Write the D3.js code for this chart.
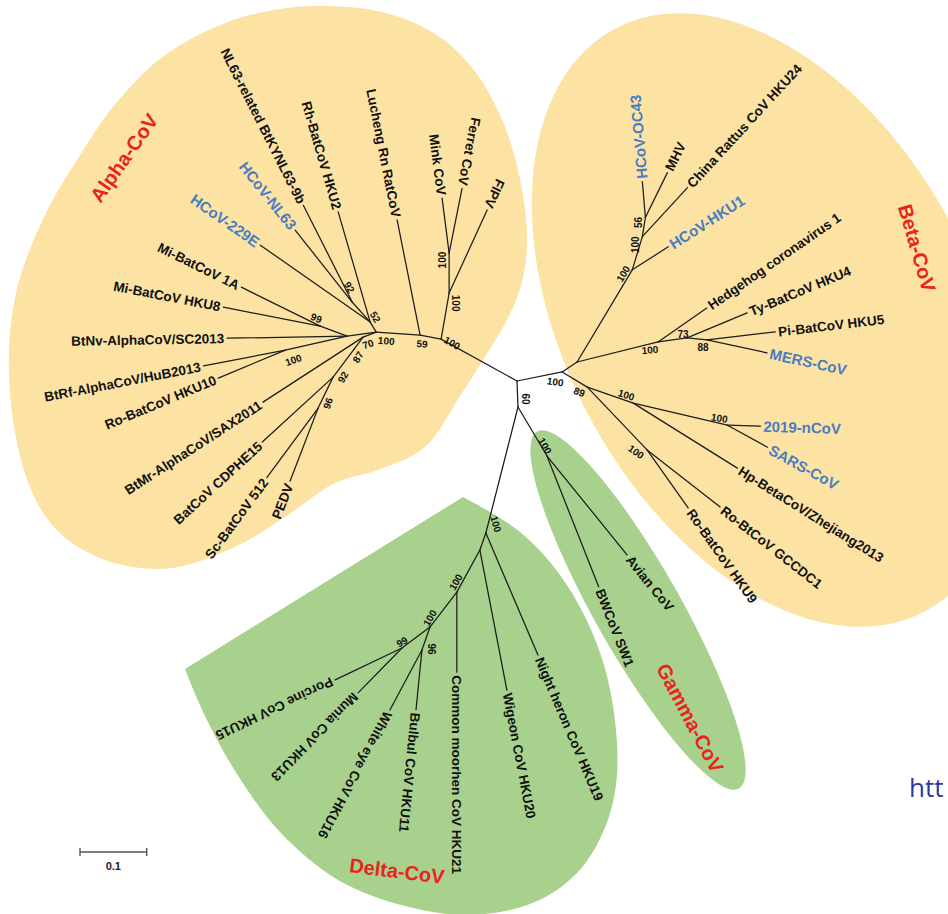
<!DOCTYPE html>
<html>
<head>
<meta charset="utf-8">
<script src="https://cdn.jsdelivr.net/npm/d3@7/dist/d3.min.js"></script>
<style>
  body { margin: 0; background: #fff; overflow: hidden; }
  svg { display: block; }
  text { font-family: "Liberation Sans", Arial, Helvetica, sans-serif; font-weight: bold; }
</style>
</head>
<body>
<svg id="chart" width="948" height="914"></svg>
<script>
// ---- Tree data: one entry per node (parent, branch length in substitutions/site) ----
const nodeIds = [
  "root",
  "a0", "f1", "f2", "FIPV", "Mink CoV", "Ferret CoV",
  "a1", "Lucheng Rn RatCoV", "a2", "a3", "a4",
  "NL63-related BtKYNL63-9b", "HCoV-NL63", "HCoV-229E", "Rh-BatCoV HKU2",
  "a5", "BtNv-AlphaCoV/SC2013", "a6", "Mi-BatCoV 1A", "Mi-BatCoV HKU8",
  "a7", "BtRf-AlphaCoV/HuB2013", "Ro-BatCoV HKU10",
  "a8", "BtMr-AlphaCoV/SAX2011", "a9", "a10", "BatCoV CDPHE15", "a11", "Sc-BatCoV 512", "PEDV",
  "b0", "b1", "b2", "Hedgehog coronavirus 1", "b3", "Ty-BatCoV HKU4", "b4", "Pi-BatCoV HKU5", "MERS-CoV",
  "b5", "HCoV-HKU1", "b6", "China Rattus CoV HKU24", "b7", "HCoV-OC43", "MHV",
  "b8", "b9", "b10", "2019-nCoV", "SARS-CoV", "Hp-BetaCoV/Zhejiang2013",
  "b11", "Ro-BtCoV GCCDC1", "Ro-BatCoV HKU9",
  "g0", "g1", "Avian CoV", "BWCoV SW1",
  "d1", "Night heron CoV HKU19", "d2", "Wigeon CoV HKU20", "d3", "Common moorhen CoV HKU21",
  "d4", "d5", "d6", "Porcine CoV HKU15", "Munia CoV HKU13", "White eye CoV HKU16", "Bulbul CoV HKU11"
];
const parentIds = [
  null,
  "root", "a0", "f1", "f1", "f2", "f2",
  "a0", "a1", "a1", "a2", "a3",
  "a4", "a4", "a3", "a3",
  "a2", "a5", "a5", "a6", "a6",
  "a5", "a7", "a7",
  "a2", "a8", "a8", "a9", "a10", "a10", "a11", "a11",
  "root", "b0", "b1", "b2", "b2", "b3", "b3", "b4", "b4",
  "b1", "b5", "b5", "b6", "b6", "b7", "b7",
  "b0", "b8", "b9", "b10", "b10", "b9",
  "b8", "b11", "b11",
  "root", "g0", "g1", "g1",
  "g0", "d1", "d1", "d2", "d2", "d3",
  "d3", "d4", "d4", "d5", "d5", "d6", "d6"
];
const branchLengths = [
  0,
  0.130, 0.070, 0.060, 0.137, 0.083, 0.099,
  0.032, 0.176, 0.066, 0.0175, 0.040,
  0.163, 0.138, 0.201, 0.172,
  0.044, 0.180, 0.043, 0.132, 0.148,
  0.095, 0.125, 0.109,
  0.021, 0.179, 0.0225, 0.0525, 0.144, 0.052, 0.129, 0.117,
  0.069, 0.027, 0.125, 0.089, 0.044, 0.0975, 0.030, 0.103, 0.092,
  0.161, 0.064, 0.052, 0.100, 0.029, 0.054, 0.075,
  0.044, 0.073, 0.145, 0.0495, 0.0685, 0.184,
  0.130, 0.139, 0.1065,
  0.039, 0.085, 0.191, 0.211,
  0.195, 0.199, 0.027, 0.214, 0.072, 0.120,
  0.066, 0.0525, 0.0365, 0.111, 0.094, 0.102, 0.090
];

// Bootstrap support (%) at internal nodes
const supportNodes  = ["a0","f1","f2","a1","a2","a3","a4","a6","a7","a8","a9","a10","a11",
                       "b0","b8","b5","b6","b7","b2","b3","b4","b9","b10","b11",
                       "g0","g1","d1","d3","d4","d5","d6"];
const supportValues = [100,100,100,59,100,52,92,99,100,70,87,92,96,
                       100,89,100,100,56,100,73,88,100,100,100,
                       60,100,100,100,100,99,96];

// Genus of each subtree and the human coronaviruses
const genusRootNodes = ["a0", "b0", "g1", "d1"];
const genusNames     = ["Alpha-CoV", "Beta-CoV", "Gamma-CoV", "Delta-CoV"];
const humanCoVs = ["HCoV-229E", "HCoV-NL63", "HCoV-OC43", "HCoV-HKU1", "MERS-CoV", "2019-nCoV", "SARS-CoV"];

const scaleBarValue = 0.1;

// ---- Layout (unrooted drawing: direction of each branch, degrees, screen axes) ----
const branchAngles = [
  0,
  -151.1, -80.1, -90, -65.4, -97.3, -78.7,
  -169.2, -101.3, -176.1, -121, -132,
  -116.8, -128.4, -145, -106.2,
  172.1, 179, -159.7, -153.7, -168.9,
  167.3, 169, 157.3,
  159, 147, 126.9, 126.9, 137.5, 115.8, 126.5, 111,
  -11.3, -33.7, -13.9, -34.8, -7.9, -22.6, 5.7, -6.7, 12.2,
  -59.1, -32.6, -73.1, -47.4, -81, -94.8, -63.9,
  31, 19.2, 13.2, 1.7, 28.8, 32,
  46.4, 38, 54.7,
  87.8, 59.4, 51, 68.4,
  104.3, 66.9, 109.4, 79.1, 118.7, 90,
  127.6, 143.1, 109.2, 154.5, 134.4, 118.1, 95.7
];
// support label offset from its node: [dx, dy, rotation]
const supportOffsets = [
  [11,4,29],[6,10,90],[-7,7,-90],[2,9,5],[10,9,5],[5,-5,60],[-3,-15,60],[-4,-8,22],[8,10,-20],[5,7,-20],[4,8,-60],[10,0,-60],[10,-5,-70],
  [-7,10,8],[-8,5,22],[-9,4,-60],[-7,8,-90],[-7,5,-90],[-8,8,-5],[-4,-3,0],[-4,8,0],[-7,-8,18],[-8,-7,10],[-11,2,35],
  [8,-8,90],[-2,-10,60],[10,-9,75],[-1,-10,-60],[0,-9,-60],[0,-6,-30],[10,-1,90]
];
const genusLabelPos = [[124,158,-55],[917,248,74],[690,718,62],[397,871,7]];
const ROOT_PX = [517, 381];
const UNIT_PX = 66.7;          // pixels for scaleBarValue
const COLORS = { yellow: "#fce3a4", green: "#a9d18e", branch: "#1c1c1c", human: "#4a7cc0", genus: "#e8251c", tip: "#111" };

// ---- Build hierarchy and positions ----
const rows = nodeIds.map((id, i) => ({ id, parent: parentIds[i], len: branchLengths[i], ang: branchAngles[i] }));
const tree = d3.stratify().id(d => d.id).parentId(d => d.parent)(rows);
tree.each(n => {
  if (!n.parent) { n.u = 0; n.v = 0; return; }
  const a = n.data.ang * Math.PI / 180;
  n.u = n.parent.u + n.data.len * Math.cos(a);
  n.v = n.parent.v + n.data.len * Math.sin(a);
});
const x = d3.scaleLinear().domain([0, scaleBarValue]).range([ROOT_PX[0], ROOT_PX[0] + UNIT_PX]);
const y = d3.scaleLinear().domain([0, scaleBarValue]).range([ROOT_PX[1], ROOT_PX[1] + UNIT_PX]);
const byId = new Map(tree.descendants().map(n => [n.id, n]));
const genusOf = n => { for (let p = n; p; p = p.parent) { const k = genusRootNodes.indexOf(p.id); if (k >= 0) return genusNames[k]; } return null; };

const svg = d3.select("#chart");

// ---- Genus highlight regions ----
const bg = svg.append("g");
const alphaOutline = [[320,6],[382,12],[432,32],[470,65],[500,115],[518,170],[527,235],[522,282],[508,318],[488,352],[460,396],[425,447],[378,470],[335,483],[288,515],[237,546],[172,568],[118,564],[75,545],[48,520],[28,482],[13,420],[9,350],[18,285],[45,215],[80,155],[117,102],[165,55],[228,22],[280,9]];
bg.append("path").attr("d", d3.line().curve(d3.curveCatmullRomClosed)(alphaOutline)).attr("fill", COLORS.yellow);
bg.append("ellipse").attr("cx", 770).attr("cy", 320).attr("rx", 330).attr("ry", 205)
  .attr("transform", "rotate(62,770,320)").attr("fill", COLORS.yellow);
bg.append("ellipse").attr("cx", 638).attr("cy", 610).attr("rx", 205).attr("ry", 43)
  .attr("transform", "rotate(60.5,638,610)").attr("fill", COLORS.green);
const deltaOutline = [[463,497],[490,512],[520,532],[550,562],[580,607],[604,665],[616,730],[616,785],[604,830],[578,872],[535,902],[470,915],[405,906],[338,880],[280,832],[237,774],[205,716],[185,669]];
bg.append("path").attr("d", d3.line().curve(d3.curveCatmullRom)(deltaOutline) + "Z").attr("fill", COLORS.green);

// ---- Branches ----
svg.append("g").selectAll("line").data(tree.links()).join("line")
  .attr("x1", d => x(d.source.u)).attr("y1", d => y(d.source.v))
  .attr("x2", d => x(d.target.u)).attr("y2", d => y(d.target.v))
  .attr("stroke", COLORS.branch).attr("stroke-width", 1.25).attr("stroke-linecap", "round");

// ---- Tip labels (Alpha labels are turned to read toward their tip) ----
const GAP = 3;
svg.append("g").selectAll("text").data(tree.leaves()).join("text")
  .each(function (d) {
    const flip = genusOf(d) === "Alpha-CoV";
    const human = humanCoVs.includes(d.id);
    const rot = flip ? d.data.ang + 180 : d.data.ang;
    d3.select(this)
      .attr("transform", `translate(${x(d.u)},${y(d.v)}) rotate(${rot})`)
      .attr("x", flip ? -GAP : GAP).attr("dy", "0.36em")
      .attr("text-anchor", flip ? "end" : "start")
      .attr("font-size", human ? 15 : 13.5)
      .attr("fill", human ? COLORS.human : COLORS.tip)
      .text(d.id);
  });

// ---- Bootstrap values ----
svg.append("g").selectAll("text").data(supportNodes).join("text")
  .attr("transform", (id, i) => {
    const n = byId.get(id), o = supportOffsets[i];
    return `translate(${x(n.u) + o[0]},${y(n.v) + o[1]}) rotate(${o[2]})`;
  })
  .attr("text-anchor", "middle").attr("dy", "0.35em").attr("font-size", 10).attr("fill", "#111")
  .text((id, i) => supportValues[i]);

// ---- Genus names ----
svg.append("g").selectAll("text").data(genusNames).join("text")
  .attr("transform", (g, i) => `translate(${genusLabelPos[i][0]},${genusLabelPos[i][1]}) rotate(${genusLabelPos[i][2]})`)
  .attr("text-anchor", "middle").attr("dy", "0.35em").attr("font-size", 20).attr("fill", COLORS.genus)
  .text(g => g);

// ---- Scale bar ----
const sb = svg.append("g").attr("stroke", "#555").attr("stroke-width", 1.4);
const sbX0 = 80, sbY = 852, sbX1 = sbX0 + (x(scaleBarValue) - x(0));
sb.append("line").attr("x1", sbX0).attr("x2", sbX1).attr("y1", sbY).attr("y2", sbY);
sb.append("line").attr("x1", sbX0).attr("x2", sbX0).attr("y1", sbY - 4).attr("y2", sbY + 4);
sb.append("line").attr("x1", sbX1).attr("x2", sbX1).attr("y1", sbY - 4).attr("y2", sbY + 4);
svg.append("text").attr("x", (sbX0 + sbX1) / 2).attr("y", sbY + 18).attr("text-anchor", "middle")
  .attr("font-size", 11).attr("fill", "#222").text(scaleBarValue);

// ---- Source link fragment at the right edge ----
svg.append("text").attr("x", 909).attr("y", 797)
  .style("font-family", "'Open Sans', 'Noto Sans', sans-serif").style("font-weight", "normal")
  .attr("font-size", 26).attr("fill", "#2b3b97").text("htt");
</script>
</body>
</html>
